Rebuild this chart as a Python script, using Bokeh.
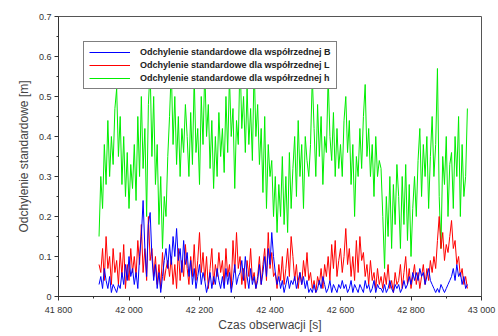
from bokeh.plotting import figure
from bokeh.models import FixedTicker, Legend, LegendItem, Range1d
from bokeh.embed import file_html
from bokeh.resources import INLINE

# time axis: one sample every 5 s from 41 915 s to 42 960 s
t_start = 41915
t_step = 5

sd_B = [
    0.03, 0.05, 0.02, 0.07, 0.04, 0.02, 0.05, 0.01, 0.03, 0.02,
    0.01, 0.03, 0.02, 0.06, 0.03, 0.08, 0.04, 0.10, 0.05, 0.07,
    0.03, 0.06, 0.02, 0.10, 0.15, 0.24, 0.12, 0.05, 0.18, 0.21,
    0.10, 0.04, 0.08, 0.02, 0.06, 0.01, 0.05, 0.09, 0.12, 0.07,
    0.13, 0.08, 0.15, 0.10, 0.17, 0.09, 0.12, 0.06, 0.14, 0.08,
    0.11, 0.05, 0.09, 0.03, 0.07, 0.02, 0.05, 0.08, 0.03, 0.06,
    0.04, 0.01, 0.03, 0.06, 0.02, 0.05, 0.03, 0.07, 0.04, 0.02,
    0.05, 0.02, 0.07, 0.03, 0.06, 0.01, 0.04, 0.08, 0.03, 0.05,
    0.06, 0.09, 0.04, 0.10, 0.05, 0.02, 0.07, 0.03, 0.05, 0.02,
    0.04, 0.08, 0.03, 0.06, 0.10, 0.05, 0.12, 0.08, 0.16, 0.10,
    0.06, 0.03, 0.05, 0.02, 0.04, 0.01, 0.03, 0.05, 0.02, 0.04,
    0.03, 0.05, 0.02, 0.04, 0.06, 0.03, 0.05, 0.02, 0.04, 0.01,
    0.02, 0.01, 0.03, 0.01, 0.02, 0.04, 0.02, 0.05, 0.03, 0.01,
    0.02, 0.04, 0.01, 0.03, 0.02, 0.01, 0.03, 0.02, 0.04, 0.02,
    0.03, 0.01, 0.02, 0.04, 0.01, 0.03, 0.02, 0.01, 0.03, 0.02,
    0.01, 0.04, 0.02, 0.03, 0.01, 0.02, 0.04, 0.01, 0.03, 0.02,
    0.02, 0.01, 0.03, 0.01, 0.02, 0.04, 0.02, 0.01, 0.03, 0.02,
    0.03, 0.01, 0.02, 0.04, 0.02, 0.03, 0.05, 0.03, 0.06, 0.04,
    0.06, 0.04, 0.07, 0.05, 0.06, 0.03, 0.05, 0.07, 0.04, 0.03,
    0.02, 0.01, 0.02, 0.01, 0.03, 0.02, 0.01, 0.02, 0.03, 0.04,
    0.05, 0.07, 0.04, 0.08, 0.05, 0.06, 0.03, 0.05, 0.02, 0.03,
]

sd_L = [
    0.08, 0.06, 0.12, 0.04, 0.15, 0.07, 0.10, 0.03, 0.12, 0.06,
    0.09, 0.03, 0.11, 0.05, 0.13, 0.02, 0.08, 0.04, 0.12, 0.06,
    0.10, 0.05, 0.14, 0.08, 0.18, 0.06, 0.12, 0.04, 0.20, 0.09,
    0.12, 0.05, 0.10, 0.03, 0.08, 0.02, 0.11, 0.04, 0.07, 0.09,
    0.05, 0.10, 0.03, 0.08, 0.02, 0.12, 0.04, 0.09, 0.05, 0.13,
    0.07, 0.03, 0.10, 0.05, 0.13, 0.04, 0.09, 0.16, 0.06, 0.11,
    0.04, 0.10, 0.02, 0.07, 0.12, 0.03, 0.08, 0.05, 0.11, 0.06,
    0.09, 0.03, 0.12, 0.05, 0.08, 0.02, 0.14, 0.06, 0.16, 0.07,
    0.10, 0.03, 0.07, 0.02, 0.09, 0.05, 0.12, 0.04, 0.06, 0.02,
    0.05, 0.10, 0.03, 0.08, 0.12, 0.04, 0.16, 0.07, 0.11, 0.05,
    0.06, 0.02, 0.08, 0.04, 0.10, 0.03, 0.07, 0.12, 0.05, 0.15,
    0.10, 0.04, 0.08, 0.02, 0.06, 0.03, 0.09, 0.05, 0.11, 0.04,
    0.06, 0.02, 0.04, 0.01, 0.05, 0.03, 0.07, 0.02, 0.08, 0.05,
    0.10, 0.04, 0.13, 0.07, 0.14, 0.05, 0.09, 0.12, 0.06, 0.10,
    0.17, 0.08, 0.12, 0.05, 0.10, 0.04, 0.14, 0.06, 0.15, 0.09,
    0.11, 0.05, 0.08, 0.03, 0.09, 0.04, 0.06, 0.02, 0.07, 0.03,
    0.05, 0.02, 0.06, 0.03, 0.08, 0.02, 0.04, 0.01, 0.06, 0.03,
    0.04, 0.08, 0.02, 0.06, 0.10, 0.03, 0.07, 0.02, 0.05, 0.08,
    0.03, 0.06, 0.02, 0.05, 0.08, 0.03, 0.07, 0.04, 0.09, 0.06,
    0.10, 0.07, 0.14, 0.20, 0.12, 0.16, 0.09, 0.13, 0.11, 0.15,
    0.19, 0.12, 0.14, 0.08, 0.10, 0.05, 0.07, 0.03, 0.05, 0.02,
]

sd_h = [
    0.15, 0.30, 0.22, 0.38, 0.28, 0.44, 0.30, 0.40, 0.33, 0.47,
    0.52, 0.35, 0.45, 0.28, 0.40, 0.25, 0.36, 0.22, 0.33, 0.27,
    0.38, 0.24, 0.45, 0.30, 0.50, 0.32, 0.42, 0.20, 0.48, 0.57,
    0.35, 0.50, 0.28, 0.38, 0.18, 0.30, 0.12, 0.25, 0.20, 0.35,
    0.45, 0.57, 0.38, 0.50, 0.33, 0.45, 0.30, 0.42, 0.36, 0.48,
    0.40, 0.30, 0.46, 0.33, 0.55, 0.36, 0.42, 0.28, 0.50, 0.38,
    0.57, 0.40, 0.48, 0.32, 0.44, 0.27, 0.40, 0.30, 0.46, 0.35,
    0.42, 0.31, 0.50, 0.36, 0.55, 0.40, 0.47, 0.27, 0.44, 0.38,
    0.60, 0.42, 0.50, 0.36, 0.52, 0.38, 0.47, 0.34, 0.58, 0.40,
    0.48, 0.33, 0.42, 0.26, 0.45, 0.22, 0.38, 0.30, 0.34, 0.20,
    0.30, 0.16, 0.28, 0.20, 0.35, 0.18, 0.30, 0.16, 0.36, 0.22,
    0.32, 0.40, 0.25, 0.44, 0.30, 0.38, 0.22, 0.40, 0.34, 0.30,
    0.38, 0.55, 0.42, 0.30, 0.48, 0.35, 0.45, 0.28, 0.40, 0.36,
    0.55, 0.40, 0.34, 0.46, 0.30, 0.42, 0.32, 0.38, 0.30, 0.44,
    0.50, 0.36, 0.44, 0.28, 0.38, 0.20, 0.35, 0.30, 0.42, 0.32,
    0.45, 0.53, 0.35, 0.42, 0.30, 0.38, 0.25, 0.40, 0.30, 0.34,
    0.32, 0.20, 0.07, 0.25, 0.15, 0.30, 0.12, 0.28, 0.18, 0.33,
    0.25, 0.12, 0.30, 0.18, 0.33, 0.14, 0.28, 0.10, 0.22, 0.30,
    0.20, 0.34, 0.42, 0.25, 0.38, 0.30, 0.40, 0.22, 0.35, 0.45,
    0.30, 0.38, 0.57, 0.25, 0.12, 0.35, 0.28, 0.40, 0.20, 0.33,
    0.36, 0.22, 0.40, 0.30, 0.45, 0.20, 0.38, 0.25, 0.30, 0.47,
]

x_ticks = [41800, 42000, 42200, 42400, 42600, 42800, 43000]
x_tick_labels = ["41 800", "42 000", "42 200", "42 400", "42 600", "42 800", "43 000"]
y_ticks = [0, 0.1, 0.2, 0.3, 0.4, 0.5, 0.6, 0.7]
y_tick_labels = ["0", "0.1", "0.2", "0.3", "0.4", "0.5", "0.6", "0.7"]

legend_labels = [
    "Odchylenie standardowe dla współrzednej B",
    "Odchylenie standardowe dla współrzednej L",
    "Odchylenie standardowe dla współrzednej h",
]

t = [t_start + t_step * i for i in range(len(sd_h))]

p = figure(width=498, height=336, output_backend="svg", toolbar_location=None,
           x_range=Range1d(41800, 43000), y_range=Range1d(0, 0.7),
           min_border_left=58, min_border_right=17, min_border_top=16,
           min_border_bottom=40)

p.background_fill_color = "white"
p.border_fill_color = "white"
p.outline_line_color = "#555555"
p.outline_line_width = 1
p.xgrid.visible = False
p.ygrid.visible = False

r_h = p.line(t, sd_h, line_color="#00ee00", line_width=1)
r_L = p.line(t, sd_L, line_color="#ff0000", line_width=1)
r_B = p.line(t, sd_B, line_color="#0000ff", line_width=1)

for ax in (p.xaxis[0], p.yaxis[0]):
    ax.axis_line_color = "#333333"
    ax.major_tick_line_color = "#333333"
    ax.minor_tick_line_color = "#333333"
    ax.major_tick_out = 4
    ax.major_tick_in = 0
    ax.minor_tick_out = 2
    ax.minor_tick_in = 0
    ax.major_label_text_font = "Liberation Sans"
    ax.major_label_text_font_size = "9px"
    ax.major_label_text_color = "#333333"
    ax.axis_label_text_font = "Liberation Sans"
    ax.axis_label_text_font_style = "normal"
    ax.axis_label_text_font_size = "12px"
    ax.axis_label_text_color = "#444444"

p.xaxis.ticker = FixedTicker(ticks=x_ticks, minor_ticks=[41900 + 200 * i for i in range(6)])
p.xaxis.major_label_overrides = dict(zip(x_ticks, x_tick_labels))
p.yaxis.ticker = FixedTicker(ticks=y_ticks, minor_ticks=[0.05 + 0.1 * i for i in range(7)])
p.yaxis.major_label_overrides = dict(zip(y_ticks, y_tick_labels))
p.xaxis.axis_label = "Czas obserwacji [s]"
p.yaxis.axis_label = "Odchylenie standardowe [m]"
p.xaxis.major_label_standoff = 4
p.xaxis.axis_label_standoff = 0
p.yaxis.major_label_standoff = 3
p.yaxis.axis_label_standoff = 5

legend = Legend(items=[
    LegendItem(label=legend_labels[0], renderers=[r_B]),
    LegendItem(label=legend_labels[1], renderers=[r_L]),
    LegendItem(label=legend_labels[2], renderers=[r_h]),
], location=(25, 207))
legend.margin = 0
legend.border_line_color = "black"
legend.border_line_width = 1
legend.background_fill_color = "white"
legend.background_fill_alpha = 1
legend.label_text_font = "Liberation Sans"
legend.label_text_font_style = "bold"
legend.label_text_font_size = "9px"
legend.label_text_color = "#222222"
legend.glyph_width = 41
legend.glyph_height = 10
legend.label_height = 10
legend.spacing = 3
legend.padding = 5
legend.label_standoff = 10
p.add_layout(legend)

open("out.html", "w").write(file_html(p, INLINE))
